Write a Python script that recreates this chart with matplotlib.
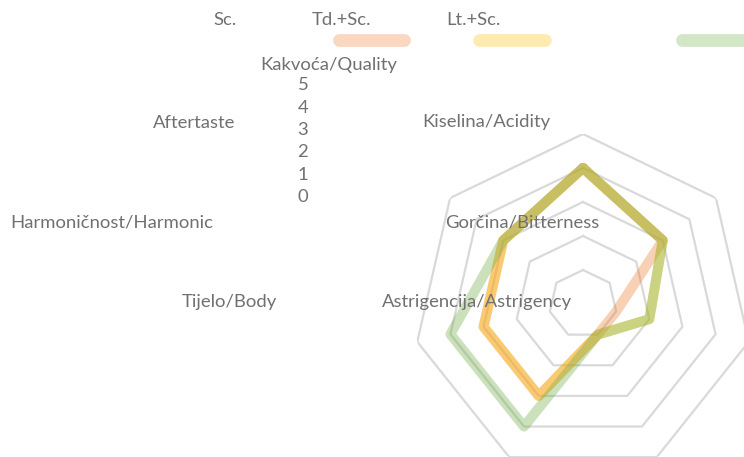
import numpy as np
import matplotlib
matplotlib.use('Agg')
import matplotlib.pyplot as plt
from matplotlib.lines import Line2D

plt.rcParams['font.family'] = ['Lato', 'DejaVu Sans']

categories = ['Kakvoća/Quality', 'Kiselina/Acidity', 'Gorčina/Bitterness',
              'Astrigencija/Astrigency', 'Tijelo/Body', 'Harmoničnost/Harmonic',
              'Aftertaste']
series_names = ['Sc.', 'Td.+Sc.', 'Lt.+Sc.']
sc = [4, 3, 1, 1, 3, 3, 3]
td_sc = [4, 3, 2, 1, 3, 3, 3]
lt_sc = [4, 3, 2, 1, 4, 4, 3]
r_ticks = [0, 1, 2, 3, 4, 5]

colors = ['#ED7D31', '#FFC000', '#70AD47']
alpha = 0.36
txt_color = '#707070'
W, H = 744, 457

fig = plt.figure(figsize=(W / 100, H / 100), dpi=100)

# radar centre sits low-right, partly cut off by the figure edge
cx, cy, rad = 583, 304, 170
ax = fig.add_axes([(cx - rad) / W, (H - cy - rad) / H, 2 * rad / W, 2 * rad / H],
                  projection='polar')
ax.set_theta_offset(np.pi / 2)
ax.set_theta_direction(-1)
ax.set_ylim(0, r_ticks[-1])
ax.grid(False)
ax.spines['polar'].set_visible(False)
ax.set_xticks([])
ax.set_yticks([])
ax.patch.set_alpha(0)

n = len(categories)
theta = np.linspace(0, 2 * np.pi, n, endpoint=False)
theta_c = np.append(theta, theta[0])

for lvl in r_ticks[1:]:
    ax.plot(theta_c, [lvl] * (n + 1), color='#d9d9d9', lw=1.6, zorder=1)

for vals, col in zip([sc, td_sc, lt_sc], colors):
    ax.plot(theta_c, vals + vals[:1], color=col, alpha=alpha, lw=7.2,
            solid_joinstyle='round', solid_capstyle='round', zorder=2)


def put(text, x, y):
    fig.text(x / W, 1 - y / H, text, ha='center', va='center',
             fontsize=13.3, color=txt_color)


# legend labels and swatches (as laid out in the original)
for name, x in zip(series_names, [225.5, 341.5, 473]):
    put(name, x, 20)
for col, (x0, x1) in zip(colors, [(339, 404), (479, 545), (682, 780)]):
    fig.add_artist(Line2D([x0 / W, x1 / W], [1 - 40 / H, 1 - 40 / H],
                          color=col, alpha=0.3, lw=9.2,
                          solid_capstyle='round', transform=fig.transFigure))

# category labels
label_pos = [(329, 65), (486, 122.5), (522.5, 222), (476.5, 302),
             (229, 302.5), (111.5, 222), (194.5, 122.5)]
for cat, (x, y) in zip(categories, label_pos):
    put(cat, x, y)

# radial axis labels stacked in a column
for i, t in enumerate(r_ticks[::-1]):
    put(str(t), 303, 85.5 + i * 22.3)

fig.savefig('out.png', dpi=100)
